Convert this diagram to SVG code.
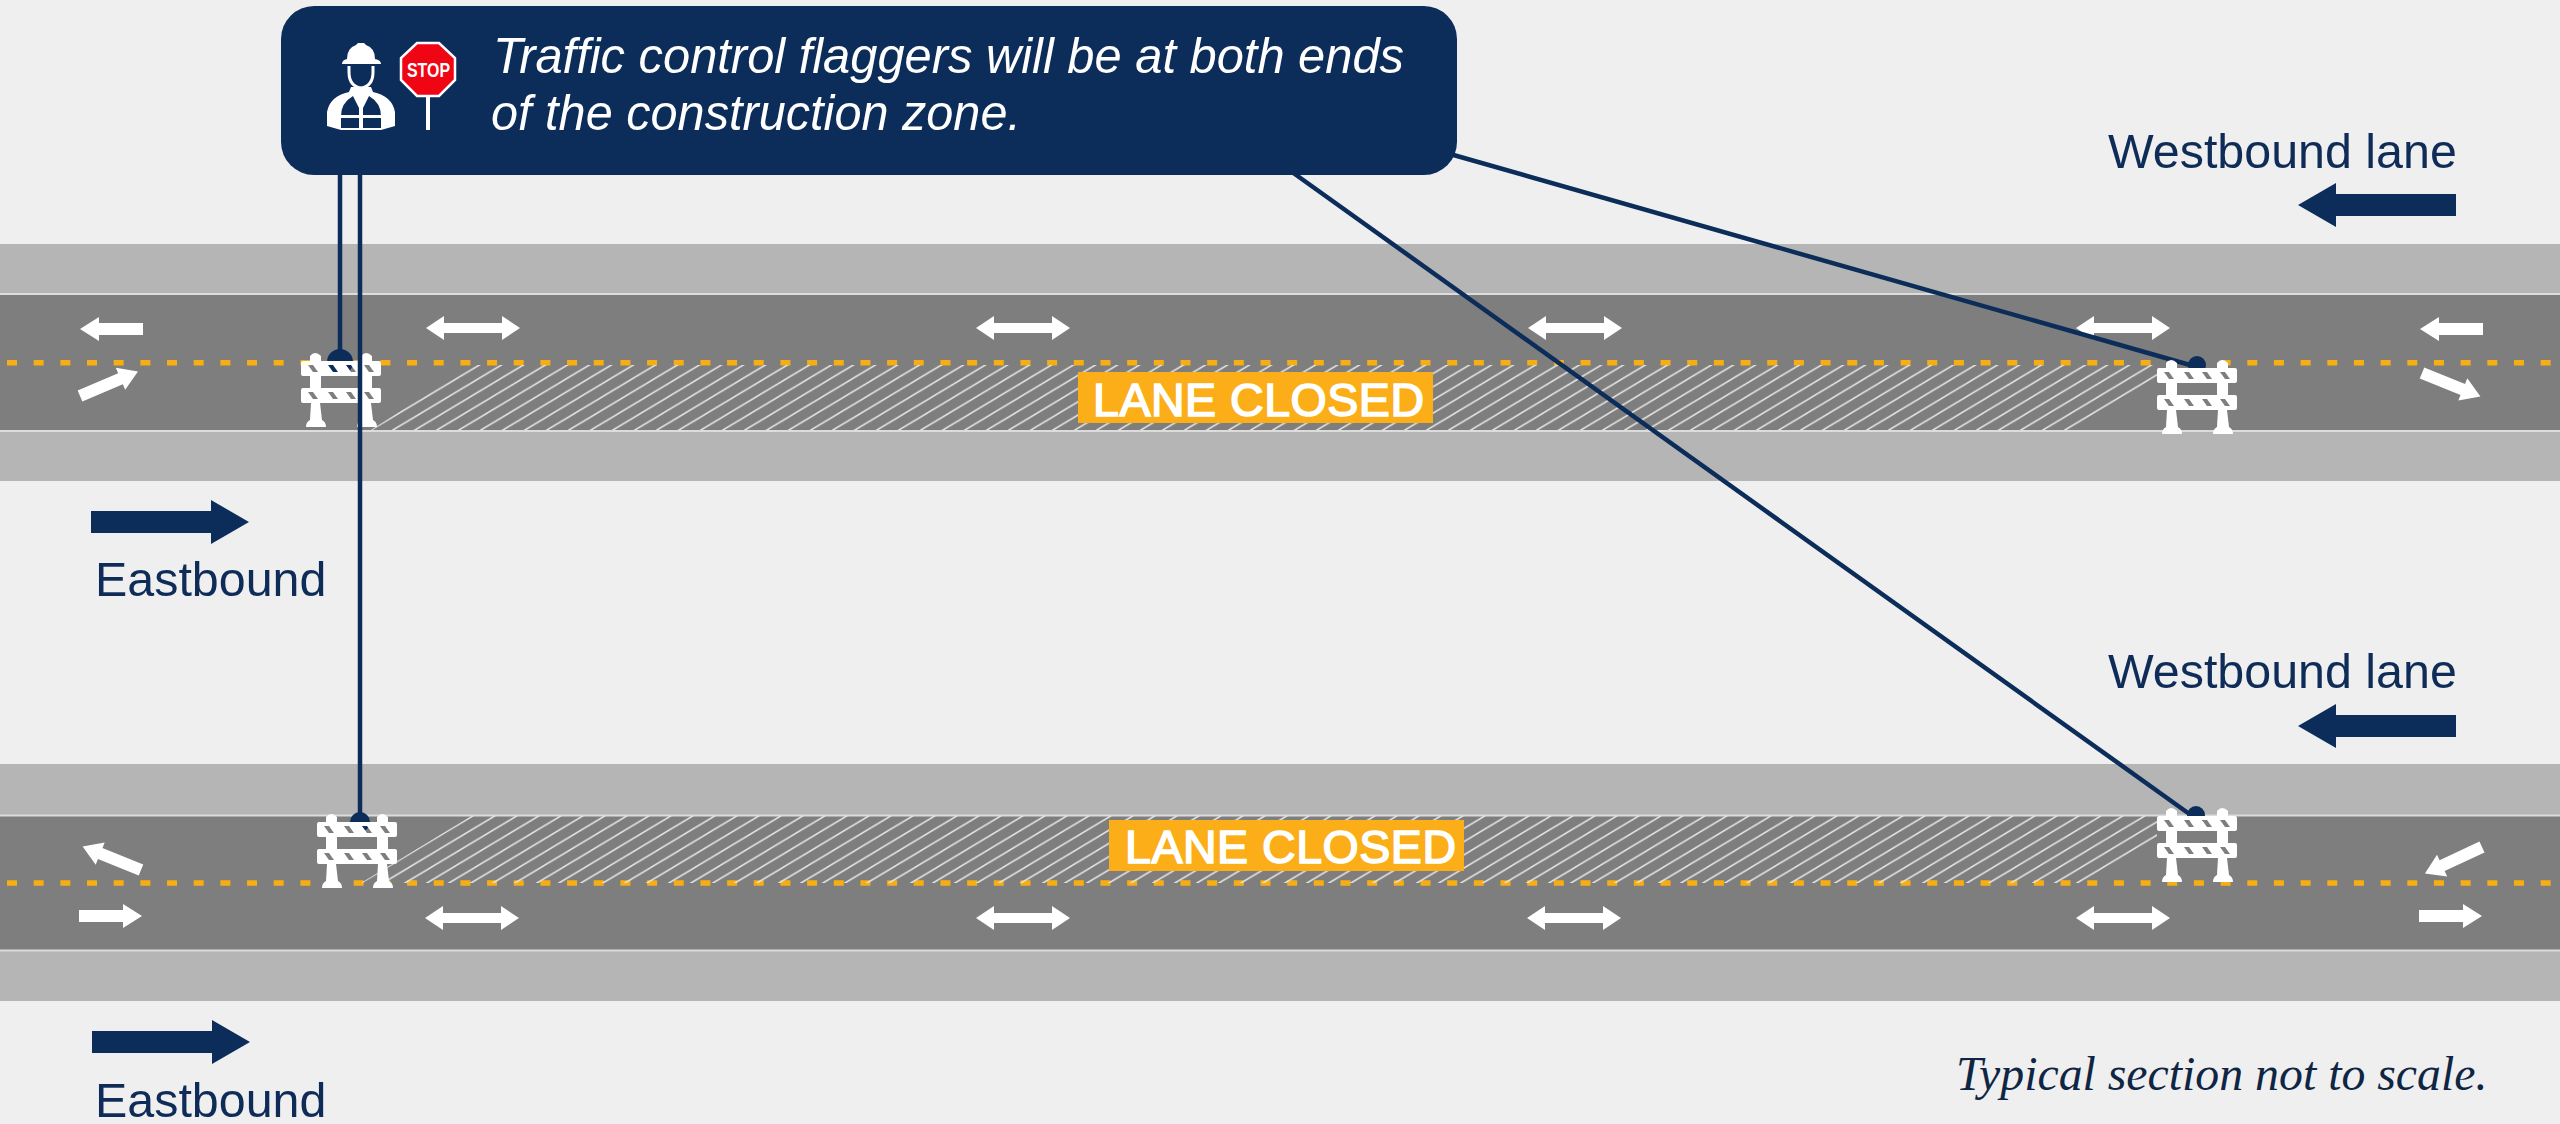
<svg xmlns="http://www.w3.org/2000/svg" xmlns:xlink="http://www.w3.org/1999/xlink" width="2560" height="1124" viewBox="0 0 2560 1124">
<style>
.shoulder{fill:#b5b5b5}
.road{fill:#7e7e7e}
.edge{stroke:#dcdcdc;stroke-width:2;fill:none}
.dash{stroke:#f6ae12;stroke-width:5.5;stroke-dasharray:10 16.67;fill:none}
.wa{fill:#fff}
.na{fill:#0c2c59}
.lbl{font-family:"Liberation Sans",Arial,sans-serif;font-size:48.4px;fill:#0f2c58}
.closed{fill:#fbae17}
.closedt{font-family:"Liberation Sans",Arial,sans-serif;font-size:46.5px;fill:#fff;stroke:#fff;stroke-width:1.6}
.conn{stroke:#0c2c59;stroke-width:4.5;fill:none}
.dome{fill:#0c2c59}
.ct{font-family:"Liberation Sans",Arial,sans-serif;font-style:italic;font-size:50px;fill:#fff}
</style>
<defs>
<path id="dbl" class="wa" d="M-47,0L-29,-12L-29,-5L29,-5L29,-12L47,0L29,12L29,5L-29,5L-29,12Z"/>
<path id="sgl" class="wa" d="M0,-6L44,-6L44,-12L63,0L44,12L44,6L0,6Z"/>
<path id="big" class="na" d="M0,-11L120,-11L120,-22L158,0L120,22L120,11L0,11Z"/>
<pattern id="h1" patternUnits="userSpaceOnUse" x="371" y="416.8" width="22" height="13.2">
<path d="M-2,14.4L24,-1.2M-2,1.2L2,-1.2M20,14.4L24,12" stroke="#e2e2e2" stroke-width="1.6" fill="none"/>
</pattern>
<pattern id="h2" patternUnits="userSpaceOnUse" x="361" y="869.8" width="22" height="13.2">
<path d="M-2,14.4L24,-1.2M-2,1.2L2,-1.2M20,14.4L24,12" stroke="#e2e2e2" stroke-width="1.6" fill="none"/>
</pattern>
<g id="barricade">
<path class="wa" fill-rule="evenodd" d="M2,9H78Q80,9 80,11V22Q80,24 78,24H2Q0,24 0,22V11Q0,9 2,9ZM7,13L12,13L17,20L12,20ZM27,13L32,13L37,20L32,20ZM45,13L50,13L55,20L50,20ZM63,13L68,13L73,20L68,20Z
M2,36H78Q80,36 80,38V49Q80,51 78,51H2Q0,51 0,49V38Q0,36 2,36ZM7,40L12,40L17,47L12,47ZM27,40L32,40L37,47L32,47ZM45,40L50,40L55,47L50,47ZM63,40L68,40L73,47L68,47Z"/>
<path class="wa" d="M9,9V4Q14,-2 20,4V9ZM60,9V4Q65,-2 71,4V9ZM9,24H20V36H9ZM60,24H71V36H60ZM10,51H19L21,68Q25,70 25,75H5Q5,70 9,68ZM61,51H70L72,68Q76,70 76,75H56Q56,70 60,68Z"/>
</g>
</defs>
<rect width="2560" height="1124" fill="#efefef"/>
<g id="road-top">
<rect class="shoulder" x="0" y="244" width="2560" height="237"/>
<rect class="road" x="0" y="295" width="2560" height="135"/>
<path class="edge" d="M0,294H2560M0,431H2560"/>
<path class="dash" d="M7,362.7H2560"/>
<path d="M371,430L471,365H2157V385L2083,430Z" fill="url(#h1)"/>
</g>
<g id="road-bottom">
<rect class="shoulder" x="0" y="764" width="2560" height="237"/>
<rect class="road" x="0" y="816" width="2560" height="134"/>
<path class="edge" d="M0,815.5H2560M0,950.5H2560"/>
<path class="dash" d="M7,883H2560"/>
<path d="M361,883L471,816H2157V838L2083,883Z" fill="url(#h2)"/>
</g>
<g id="lane-closed-top">
<rect class="closed" x="1078" y="372" width="355" height="51"/>
<text class="closedt" x="1093" y="416" textLength="331">LANE CLOSED</text>
</g>
<g id="lane-closed-bottom">
<rect class="closed" x="1109" y="820" width="355" height="51"/>
<text class="closedt" x="1125" y="863" textLength="331">LANE CLOSED</text>
</g>
<g id="traffic-arrows">
<use href="#dbl" x="473" y="328"/><use href="#dbl" x="1023" y="328"/><use href="#dbl" x="1575" y="328"/><use href="#dbl" x="2123" y="328"/>
<use href="#dbl" x="472" y="918"/><use href="#dbl" x="1023" y="918"/><use href="#dbl" x="1574" y="918"/><use href="#dbl" x="2123" y="918"/>
<use href="#sgl" transform="translate(143,329) rotate(180)"/>
<use href="#sgl" transform="translate(80,396) rotate(-23)"/>
<use href="#sgl" transform="translate(2483,329) rotate(180)"/>
<use href="#sgl" transform="translate(2422,373) rotate(22)"/>
<use href="#sgl" transform="translate(141,870) rotate(202)"/>
<use href="#sgl" transform="translate(79,916)"/>
<use href="#sgl" transform="translate(2482,847) rotate(155)"/>
<use href="#sgl" transform="translate(2419,916)"/>
</g>
<g id="barricade-1">
<circle class="dome" cx="340" cy="362" r="13"/>
<use href="#barricade" transform="translate(301,352)"/>
</g>
<g id="connectors">
<path class="conn" d="M340,170V352"/>
<path class="conn" d="M360,170V822"/>
<path class="conn" d="M1450,154L2190,365"/>
<path class="conn" d="M1292,172L2188,813"/>
</g>
<g id="barricade-2">
<circle class="dome" cx="2197" cy="365" r="9"/>
<use href="#barricade" transform="translate(2157,359)"/>
</g>
<g id="barricade-3">
<circle class="dome" cx="360" cy="822" r="10"/>
<use href="#barricade" transform="translate(317,813)"/>
</g>
<g id="barricade-4">
<circle class="dome" cx="2196" cy="815" r="9"/>
<use href="#barricade" transform="translate(2157,807)"/>
</g>
<g id="direction-labels">
<use href="#big" transform="translate(91,522)"/>
<text class="lbl" x="95" y="596">Eastbound</text>
<use href="#big" transform="translate(92,1042)"/>
<text class="lbl" x="95" y="1117">Eastbound</text>
<use href="#big" transform="translate(2456,205) rotate(180)"/>
<text class="lbl" x="2108" y="168">Westbound lane</text>
<use href="#big" transform="translate(2456,726) rotate(180)"/>
<text class="lbl" x="2108" y="688">Westbound lane</text>
</g>
<g id="callout">
<rect x="281" y="6" width="1176" height="169" rx="33" fill="#0c2c59"/>
<g id="flagger">
<path class="wa" d="M342,64Q342,60 347,59Q347,48 356,45L358,43H364L366,45Q375,48 375,59Q381,60 381,64Z"/>
<path d="M349,66V72Q349,86 361,88Q373,86 373,72V66" fill="none" stroke="#fff" stroke-width="3"/>
<path class="wa" d="M351,87L371,87L373,92Q392,96 395,112V126L381,130H341L327,126V112Q330,96 349,92Z"/>
<path d="M341,126V116Q341,103 353,96L359,108V115H341M341,118H359V128H341M381,126V116Q381,103 369,96L363,108V115H381M381,118H363V128H381" fill="#0c2c59"/>
</g>
<g id="stop-sign">
<rect class="wa" x="426" y="90" width="4" height="40"/>
<path d="M417,43H439L455,58V80L439,96H417L401,80V58Z" fill="#f00515" stroke="#fff" stroke-width="2.5"/>
<text x="407" y="77" textLength="43" lengthAdjust="spacingAndGlyphs" style="font-family:'Liberation Sans',Arial,sans-serif;font-weight:bold;font-size:20px;fill:#fff">STOP</text>
</g>
<text class="ct" x="493" y="73" textLength="911" lengthAdjust="spacingAndGlyphs">Traffic control flaggers will be at both ends</text>
<text class="ct" x="491" y="130" textLength="530" lengthAdjust="spacingAndGlyphs">of the construction zone.</text>
</g>
<text id="note" x="1956" y="1090" style="font-family:'Liberation Serif','Times New Roman',serif;font-style:italic;font-size:47.8px;fill:#0f2544">Typical section not to scale.</text>
</svg>
